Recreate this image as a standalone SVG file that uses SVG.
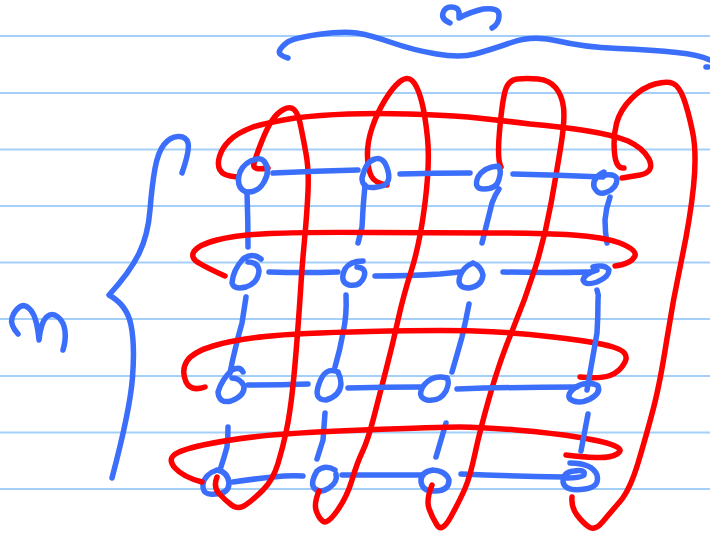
<svg xmlns="http://www.w3.org/2000/svg" width="710" height="533" viewBox="0 0 710 533">
<style>
.rule{stroke:#a3cff8;stroke-width:2;fill:none}
.b{stroke:#3b6ffb;stroke-width:5.5;fill:none;stroke-linecap:round;stroke-linejoin:round}
.r{stroke:#ff0000;stroke-width:5.5;fill:none;stroke-linecap:round;stroke-linejoin:round}
</style>
<rect width="710" height="533" fill="#ffffff"/>
<g id="ruled-lines" class="rule">
<path d="M0 36H710M0 93H710M0 149.500H710M0 206H710M0 262.500H710M0 319H710M0 376H710M0 432.500H710M0 489H710"/>
</g>
<g id="labels-and-braces" class="b">
<path d="M288 58Q278 55 279.500 51Q281 47 287 42.500Q293 38 318 34.500Q343 31 356.500 33Q370 35 391.500 42.500Q413 50 436.500 54Q460 58 475 54Q490 50 511.500 42.500Q533 35 558 41Q583 47 618 48.500Q653 50 676.500 52.500Q700 55 710 60"/>
<path d="M706 67L708 67"/>
<path d="M450 23Q441 19 443 13Q445 7 451 7Q458 7 459 12Q459 15 459 18Q470 12 483 9Q500 7 499 16Q499 24 492 28"/>
<path d="M182 173Q190 150 188 143Q186 136 178 136.500Q170 137 164 144.500Q158 152 155 168.500Q152 185 150 210Q148 235 139 253.500Q130 272 109 295Q127 305 131 325Q135 345 132.500 377.500Q130 410 112 478"/>
<path d="M18 334Q10 325 12 318Q14 311 19.500 307Q25 303 31 310.500Q37 318 39 340Q41 322 46.500 317Q52 312 58 317Q64 322 65 331Q66 340 63 350"/>
</g>
<g class="b">
<g id="node-2-1"><path d="M261 259Q252 252 243 259Q233 270 232 283Q234 290 246 287Q258 283 259 271Q258 262 248 262"/></g>
<g id="node-2-2"><path d="M363 261Q350 261 345 269Q339 282 349 285Q360 287 364 277Q367 268 357 267"/></g>
<g id="node-2-3"><path d="M473 263Q463 267 460 276Q456 288 469 288Q482 286 483 275Q481 266 473 263"/></g>
<g id="node-2-4"><path d="M597 270Q584 274 583 280Q585 286 597 282Q609 277 609 270Q605 264 593 267"/></g>
<g id="node-3-1"><path d="M243 372Q240 366 232 370Q222 379 218 392Q219 404 231 401Q245 396 244 386Q240 378 232 378"/></g>
<g id="node-3-2"><path d="M338 372Q325 366 319 384Q313 400 326 400Q340 396 341 384Q341 378 338 372"/></g>
<g id="node-3-3"><path d="M447 378Q433 374 424 385Q416 397 427 400Q440 402 446 391Q450 382 447 378"/></g>
<g id="node-4-1"><path d="M217 470Q205 474 203 484Q202 496 215 494Q229 494 229 483Q228 472 217 470"/></g>
<g id="node-4-2"><path d="M335 470Q325 464 317 471Q310 483 314 488Q320 494 329 488Q338 482 336 474"/></g>
<g id="node-4-3"><path d="M433 470Q420 472 421 482Q423 492 435 491Q449 491 449 480Q446 471 433 470"/></g>
<g id="node-4-4"><path d="M570 463Q592 463 597 475Q600 487 585 489Q565 492 563 482Q563 472 574 471Q586 469 584 475Q582 478 563 478"/></g>
</g>
<g id="connectors">
<g class="b">
<path d="M269 272Q304 273 338 272"/>
<path d="M375 276Q410 276 440 274Q450 273 460 272"/>
<path d="M503 272Q546 273 590 272"/>
<path d="M248 385Q278 385 308 384"/>
<path d="M233 482Q253 479 273 477Q290 475 303 476"/>
<path d="M342 475Q382 475 423 475"/>
<path d="M461 474Q512 476 563 477"/>
<path d="M247 192Q248 220 248 247"/>
<path d="M246 297Q244 310 242 323Q238 337 235 350Q232 362 230 373"/>
<path d="M228 427Q228 437 227 447Q224 458 220 470"/>
<path d="M365 185Q363 205 362 227Q360 235 358 243"/>
<path d="M346 295Q347 315 343 333Q340 350 335 367"/>
<path d="M325 413Q324 427 323 440L317 459"/>
<path d="M499 189Q495 195 492 203Q487 223 482 243"/>
<path d="M469 304Q466 320 462 337Q457 355 452 372"/>
<path d="M446 423L436 457"/>
<path d="M610 197Q606 208 605 220Q605 232 607 243"/>
</g>
<g class="r">
<path d="M237 177Q223 176 220 170Q217 165 219.500 156.500Q222 148 229.500 140.500Q237 133 253 127Q270 122 295 118Q320 115 348 114Q377 113 408 114Q440 115 468 117Q497 120 530 124Q563 127 588 131Q613 135 628 141Q643 148 649 159Q655 172 640 175L622 178"/>
<path d="M225 276Q207 268 199 263Q190 258 194 251.500Q198 245 217 240Q237 235 270 233.500Q303 232 371 232.500Q440 233 491 233Q543 233 573 235Q603 237 620 243Q637 250 635 256Q631 264 615 266"/>
<path d="M205 387Q191 392 186 382Q181 370 187 361Q193 352 213 346Q233 340 265 336.500Q297 333 368 331.500Q440 330 475 331Q510 332 553 337Q597 342 613 347Q630 352 625 362Q620 372 610 375.500Q600 379 580 377"/>
<path d="M202 482Q183 477 175 468Q168 460 174 455Q180 450 203 445Q227 440 257 436.500Q287 433 363 430Q440 427 460 427Q480 427 516 430Q553 433 580 437.500Q607 442 615 446Q624 450 617 454Q610 458 596 457.500Q583 457 566 455"/>
<path d="M268 168Q252 171 254 163.500Q256 156 261.500 142Q267 128 272 120.500Q277 113 283.500 109.500Q290 106 294 109.500Q298 113 300.500 125Q303 137 306 153.500Q309 170 308 191.500Q307 213 304.500 240Q302 267 301 283.500Q300 300 297.500 333.500Q295 367 292.500 390Q290 413 286.500 430Q283 447 278 463.500Q273 480 263 490Q253 500 245.500 505Q238 510 231.500 505Q225 500 219 493.500Q213 487 217 477"/>
<path d="M387 185Q375 183 371.500 176.500Q368 170 367.500 156.500Q367 143 372 128Q377 113 385 100Q393 87 400 81.500Q407 76 412 80.500Q417 85 421 99Q425 113 427.500 138Q430 163 425 203Q420 243 411.500 270Q403 297 398 320Q393 343 386.500 368Q380 393 374 416.500Q368 440 362.500 451.500Q357 463 352 480Q347 497 337 511Q327 525 322.500 521Q318 517 316 510Q314 503 319 491"/>
<path d="M501 167Q497 160 499.500 131.500Q502 103 505 91.500Q508 80 517.500 79Q527 78 538 79Q549 80 555.500 87.500Q562 95 563.500 107.500Q565 120 561 145Q557 170 551 203.500Q545 237 535 268.500Q525 300 512.500 330Q500 360 490 395Q480 430 475 453.500Q470 477 465 488.500Q460 500 451 516.500Q442 533 437 525Q432 517 429 508.500Q426 500 432 485"/>
<path d="M624 168Q616 169 614.500 153Q613 137 616.500 123.500Q620 110 631.500 98.500Q643 87 655 84Q667 81 673 83.500Q679 86 683.500 98Q688 110 692.500 131.500Q697 153 693.500 186.500Q690 220 681.500 260Q673 300 666.500 341.500Q660 383 653.500 408Q647 433 638.500 461.500Q630 490 620 501.500Q610 513 602.500 522Q595 531 589 527Q583 523 577 515Q571 507 572 497"/>
</g>
<g class="b">
<path d="M273 173Q316 171 358 170"/>
<path d="M400 174Q435 173 470 173"/>
<path d="M513 174Q558 175 603 177"/>
<path d="M348 388Q384 387 420 387"/>
<path d="M457 389Q517 387 577 387"/>
<path d="M597 290Q599 295 598 300Q598 317 597 333Q592 362 587 390"/>
<path d="M588 414L581 451"/>
</g>
</g>
<g class="b">
<g id="node-1-1"><path d="M257 159Q245 161 240 172Q235 187 246 192Q258 193 264 182Q271 170 264 161Q260 157 254 160"/></g>
<g id="node-1-2"><path d="M362 178Q366 161 375 159Q384 156 388 171Q392 186 377 187Q362 190 362 178"/></g>
<g id="node-1-3"><path d="M498 166Q484 167 478 177Q473 189 484 189Q497 189 499 179Q502 170 498 166"/></g>
<g id="node-1-4"><path d="M604 172Q592 178 594 187Q598 196 607 192Q617 188 617 179Q615 174 606 175Q600 175 597 177"/></g>
<g id="node-3-4"><path d="M597 385Q585 381 576 387Q566 394 570 399Q578 405 590 399Q601 393 598 386Q594 383 588 383"/></g>
</g>
</svg>
